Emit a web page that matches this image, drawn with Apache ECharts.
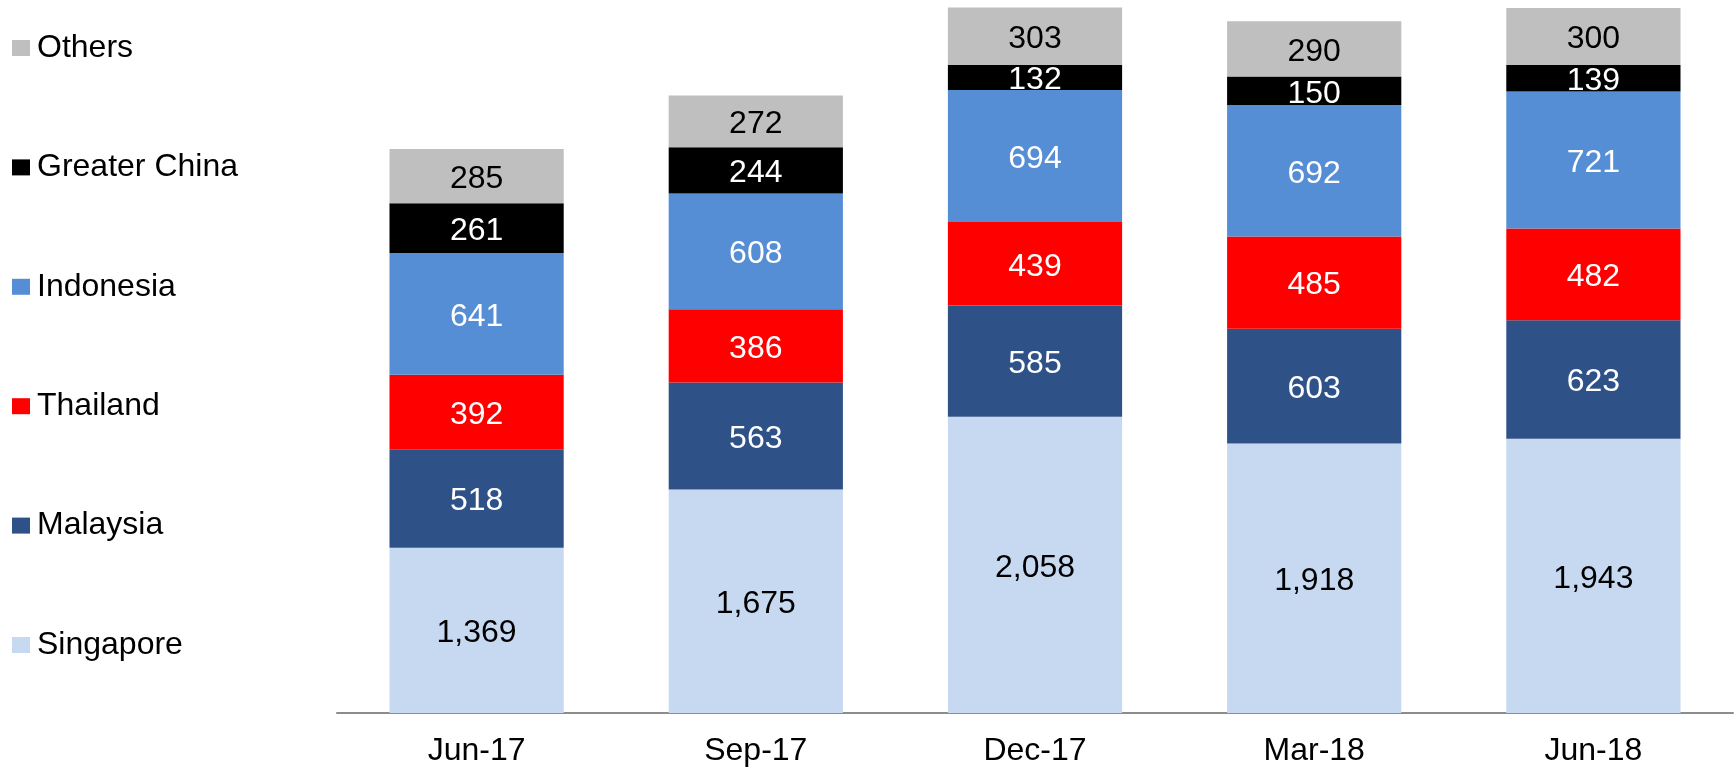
<!DOCTYPE html>
<html>
<head>
<meta charset="utf-8">
<style>
  html, body { margin: 0; padding: 0; background: #ffffff; }
  #chart { width: 1736px; height: 767px; }
</style>
<script src="https://cdn.jsdelivr.net/npm/echarts@6/dist/echarts.min.js"></script>
</head>
<body>
<div id="chart"></div>
<script>
// Quarter labels along the category axis
const categories = ['Jun-17', 'Sep-17', 'Dec-17', 'Mar-18', 'Jun-18'];

// Values per market, stacked bottom to top
const singapore    = [1369, 1675, 2058, 1918, 1943];
const malaysia     = [518, 563, 585, 603, 623];
const thailand     = [392, 386, 439, 485, 482];
const indonesia    = [641, 608, 694, 692, 721];
const greaterChina = [261, 244, 132, 150, 139];
const others       = [285, 272, 303, 290, 300];

// Legend order, top to bottom
const legendOrder = ['Others', 'Greater China', 'Indonesia', 'Thailand', 'Malaysia', 'Singapore'];

const FONT = '"Liberation Sans", Arial, sans-serif';
const FONT_SIZE = 32;
const Y_MIN = 500;
const Y_MAX = 4250;

const fmt = p => Number(p.value).toLocaleString('en-US');

function stackSeries(name, data, color, labelColor) {
  return {
    name: name,
    type: 'bar',
    stack: 'total',
    data: data,
    barWidth: '62.4%',
    itemStyle: { color: color },
    label: {
      show: true,
      position: 'inside',
      offset: [0, 3],
      formatter: fmt,
      color: labelColor,
      fontFamily: FONT,
      fontSize: FONT_SIZE
    },
    emphasis: { disabled: true }
  };
}

const chart = echarts.init(document.getElementById('chart'), null, { renderer: 'canvas' });

const option = {
  animation: false,
  backgroundColor: '#ffffff',
  textStyle: { fontFamily: FONT },
  grid: { left: 337, right: 3, top: 0, bottom: 54, containLabel: false },
  legend: {
    orient: 'vertical',
    left: 12,
    top: 32,
    padding: 0,
    data: legendOrder,
    icon: 'rect',
    itemWidth: 18,
    itemHeight: 16,
    itemGap: 87.4,
    selectedMode: false,
    textStyle: {
      fontFamily: FONT,
      fontSize: FONT_SIZE,
      lineHeight: 30,
      color: '#000000',
      padding: [0, 0, 0, 2]
    }
  },
  xAxis: {
    type: 'category',
    data: categories,
    axisLine: { show: true, lineStyle: { color: '#8c8c8c', width: 2 } },
    axisTick: { show: false },
    axisLabel: { color: '#000000', fontFamily: FONT, fontSize: FONT_SIZE, margin: 22 }
  },
  yAxis: {
    type: 'value',
    min: Y_MIN,
    max: Y_MAX,
    startValue: Y_MIN,
    show: false,
    splitLine: { show: false }
  },
  series: [
    stackSeries('Singapore', singapore, '#c6d9f1', '#000000'),
    stackSeries('Malaysia', malaysia, '#2e5288', '#ffffff'),
    stackSeries('Thailand', thailand, '#ff0000', '#ffffff'),
    stackSeries('Indonesia', indonesia, '#558ed5', '#ffffff'),
    stackSeries('Greater China', greaterChina, '#000000', '#ffffff'),
    stackSeries('Others', others, '#bfbfbf', '#000000')
  ]
};

chart.setOption(option);
</script>
</body>
</html>
